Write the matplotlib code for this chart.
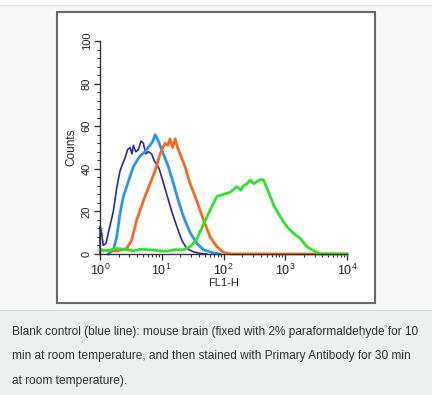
import matplotlib
matplotlib.use("Agg")
import matplotlib.pyplot as plt
import matplotlib.patches as mpatches
from matplotlib.ticker import LogLocator, MultipleLocator, NullFormatter

# ── Histogram data (FL1-H, counts) ───────────────────────────────────────────
navy_x = [1.0, 1.0, 1.05, 1.13, 1.25, 1.365, 1.5, 1.645, 1.864, 2.11, 2.3, 2.54, 2.8, 3.07,
          3.3, 3.47, 3.8, 4.18, 4.6, 5.04, 5.5, 6.08, 6.87, 7.5, 8.3, 9.1, 10.0,
          12.05, 14.5, 17.5, 21.1, 25.4, 32.6, 41.8, 53.7]
navy_y = [0, 13, 11, 4, 5, 10, 15, 20, 31, 39, 42, 45, 49, 50,
          47, 51, 48, 49, 53, 52, 47, 48, 47, 44, 42, 40, 36,
          28, 20, 13, 6.5, 2.6, 1, 0.3, 0]

blue_x = [1.365, 1.5, 1.645, 1.864, 2.11, 2.39, 2.88, 3.2, 3.47, 4.0, 4.45, 5.36,
          6.0, 6.46, 7.2, 7.8, 8.83, 10.6, 12.8, 15.5, 18.6, 22.5, 28.8, 36.9,
          47.4, 68.8, 88]
blue_y = [0, 1, 2, 8, 19, 27, 34, 38, 41, 44, 46, 48,
          50, 51, 53, 56, 53, 47, 41, 33, 25, 17.5, 10, 5,
          2, 0.5, 0]

orange_x = [1.0, 1.4, 1.864, 2.3, 2.71, 3.26, 3.93, 5.04, 6.46, 7.8, 9.4, 11.3,
            12.5, 13.6, 15.0, 16.5, 18.0, 19.8, 23.9, 28.8, 36.9, 47.4, 60.8, 78,
            100, 128, 10000]
orange_y = [2, 1.5, 1.5, 2, 2.6, 6.5, 16, 25, 33, 39, 47, 52,
            51, 54, 50, 54, 50, 47, 41, 33, 25, 16, 8, 3.4,
            0.8, 0, 0]

green_x = [1.0, 1.3, 1.864, 2.5, 3.47, 4.5, 6.46, 9.0, 12.05, 16.0, 22.5, 28.8,
           36.9, 47.4, 60.8, 78, 100, 128, 164, 190, 211, 240, 270, 310, 347,
           400, 445, 537, 647, 830, 1064, 1365, 1750, 2245, 2878, 3694, 10000]
green_y = [2, 1.5, 2.6, 2.2, 1.5, 2.2, 2, 1.5, 1.3, 2, 2, 3.4,
           7, 14, 20.6, 27, 28, 29, 31.6, 30, 32, 33, 34.7, 33, 34,
           35, 34.7, 29, 23, 17.5, 12.8, 9.7, 7.3, 3.4, 1.6, 0, 0]

x_ticks = [1, 10, 100, 1000, 10000]
x_ticklabels = [r"$10^0$", r"$10^1$", r"$10^2$", r"$10^3$", r"$10^4$"]
y_ticks = [0, 20, 40, 60, 80, 100]

caption = ["Blank control (blue line): mouse brain (fixed with 2% paraformaldehyde for 10",
           "min at room temperature, and then stained with Primary Antibody for 30 min",
           "at room temperature)."]

plt.rcParams["font.family"] = ["Liberation Sans", "DejaVu Sans"]
plt.rcParams["mathtext.fontset"] = "custom"
plt.rcParams["mathtext.rm"] = "Liberation Sans"
plt.rcParams["mathtext.it"] = "Liberation Sans"

W, H = 432, 395
fig = plt.figure(figsize=(W / 100, H / 100), dpi=100, facecolor="#f7f7f7")

def fr(x0, y0, x1, y1, **kw):
    # rectangle in pixel coords (top-left origin) -> figure fraction, behind the axes
    fig.patches.append(mpatches.Rectangle((x0 / W, 1 - y1 / H), (x1 - x0) / W, (y1 - y0) / H,
                                          transform=fig.transFigure, figure=fig,
                                          zorder=-10, **kw))

fr(0, 0, W, 5, facecolor="white", edgecolor="none")
fr(0, 5, W, 5.8, facecolor="#e2e2e2", edgecolor="none")
fr(0, 310, W, H, facecolor="#eef0f0", edgecolor="none")
fr(0, 309.5, W, 310.5, facecolor="#dcdcdc", edgecolor="none")
fr(57, 12, 375, 303, facecolor="white", edgecolor="#6a6a6a", linewidth=1.5)

ax = fig.add_axes([100 / W, 1 - 254 / H, 247 / W, 213 / H])
ax.set_facecolor("none")

ax.plot(navy_x, navy_y, color="#2b2ba3", lw=1.2, clip_on=False)
ax.plot(blue_x, blue_y, color="#2b95e8", lw=2.0, clip_on=False)
ax.plot(orange_x, orange_y, color="#f26b1d", lw=2.0, clip_on=False)
ax.plot(green_x, green_y, color="#2ee22e", lw=2.0, clip_on=False)

ax.set_xscale("log")
ax.set_xlim(1, 10000)
ax.set_ylim(0, 100)
ax.set_xticks(x_ticks)
ax.set_xticklabels(x_ticklabels)
ax.xaxis.set_minor_locator(LogLocator(base=10, subs=range(2, 10)))
ax.xaxis.set_minor_formatter(NullFormatter())
ax.set_yticks(y_ticks)
ax.yaxis.set_minor_locator(MultipleLocator(4))
for lab in ax.get_yticklabels():
    lab.set_rotation(90)
    lab.set_va("center")

for s in ["top", "right"]:
    ax.spines[s].set_visible(False)
for s in ["left", "bottom"]:
    ax.spines[s].set_color("#333333")
    ax.spines[s].set_linewidth(1.0)

ax.tick_params(which="major", length=4, width=1, color="#333333", labelsize=9,
               labelcolor="#222222", pad=2)
ax.tick_params(which="minor", length=2.5, width=0.8, color="#333333")
ax.tick_params(axis="y", labelsize=8, pad=2)

ax.set_xlabel("FL1-H", fontsize=8, labelpad=0, color="#222222")
ax.set_ylabel("Counts", fontsize=8.5, labelpad=3, color="#222222")

for i, line in enumerate(caption):
    fig.text(12 / W, 1 - (332 + 24.5 * i) / H, line, fontsize=8.6, color="#333333",
             va="center", ha="left")

fig.savefig("out.png", dpi=100, facecolor=fig.get_facecolor())
